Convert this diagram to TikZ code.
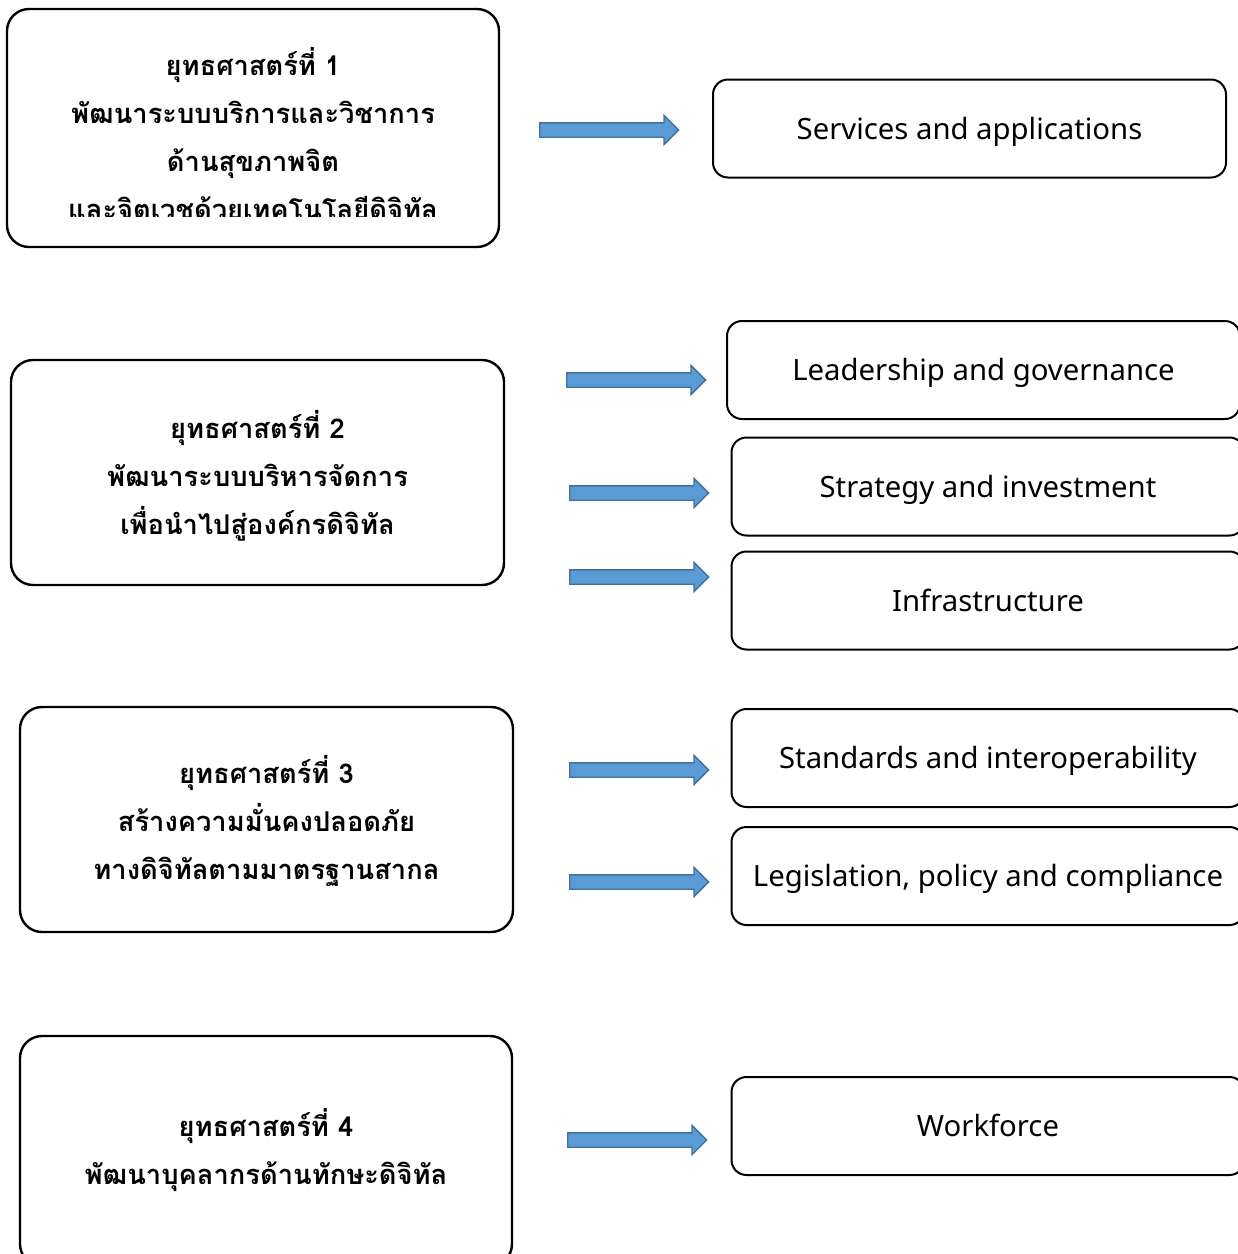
\documentclass[tikz,border=0pt]{standalone}
\usepackage{fontspec}
\newfontfamily\thaifont[Script=Thai]{Loma}
\newfontfamily\latinfont{Noto Sans}
\usetikzlibrary{shapes.arrows}

\definecolor{arrowfill}{HTML}{5B9BD5}
\definecolor{arrowline}{HTML}{41719C}

\tikzstyle{goal box}=[draw,line width=2.4pt,rounded corners=22pt,align=center,
    font=\thaifont\bfseries\fontsize{27.3}{48}\selectfont,inner sep=0pt]
\tikzstyle{area box}=[draw,line width=2pt,rounded corners=15pt,align=center,
    font=\latinfont\fontsize{29.3}{32}\selectfont,inner sep=0pt,
    text height=21pt,text depth=0pt,minimum width=513pt,minimum height=98pt]
\tikzstyle{block arrow}=[single arrow,draw=arrowline,fill=arrowfill,line width=1.3pt,
    minimum height=139pt,minimum width=0pt,inner xsep=0pt,inner ysep=6.5pt,
    text height=0pt,text depth=0pt,single arrow head extend=7.5pt,
    single arrow head indent=0pt,anchor=tail]

\begin{document}
\begin{tikzpicture}[x=1pt,y=-1pt]
    \useasboundingbox (0,0) rectangle (1238,1254);
    \clip (0,0) rectangle (1238,1254);
    % Strategy boxes on the left
    \foreach \pos/\name/\w/\h in {{(253,128)/S1/492/238},{(257.5,472.5)/S2/493/225},
        {(266.5,819.5)/S3/493/225},{(266,1151)/S4/492/230}}
    \node[goal box,minimum width=\w pt,minimum height=\h pt] (\name) at \pos {};
    % Their texts (the first one runs over its box and is cut off)
    \begin{scope}
    \clip (0,0) rectangle (1238,216);
    \node[goal box,draw=none] (T1) at (253,134) {ยุทธศาสตร์ที่ 1\\พัฒนาระบบบริการและวิชาการ\\ด้านสุขภาพจิต\\และจิตเวชด้วยเทคโนโลยีดิจิทัล};
    \end{scope}
    \node[goal box,draw=none] (T2) at (257.5,475.5) {ยุทธศาสตร์ที่ 2\\พัฒนาระบบบริหารจัดการ\\เพื่อนำไปสู่องค์กรดิจิทัล};
    \node[goal box,draw=none] (T3) at (266.5,821.5) {ยุทธศาสตร์ที่ 3\\สร้างความมั่นคงปลอดภัย\\ทางดิจิทัลตามมาตรฐานสากล};
    \node[goal box,draw=none] (T4) at (266,1150) {ยุทธศาสตร์ที่ 4\\พัฒนาบุคลากรด้านทักษะดิจิทัล};
    % Component boxes on the right
    \foreach \pos/\name/\text in {{(969.5,128.5)/A1/Services and applications},
        {(983.5,370)/A2/Leadership and governance},
        {(988,486.5)/A3/Strategy and investment},
        {(988,600.5)/A4/Infrastructure},
        {(988,758)/A5/Standards and interoperability},
        {(988,876)/A6/{Legislation, policy and compliance}},
        {(988,1126)/A7/Workforce}}
    \node[area box] (\name) at \pos {\text};
    % Block arrows
    \foreach \pos/\name in {{(539,130)/R1},{(566,380)/R2},{(569,493)/R3},{(569,577)/R4},
        {(569,770)/R5},{(569,882)/R6},{(567,1140)/R7}}
    \node[block arrow] (\name) at \pos {};
\end{tikzpicture}
\end{document}
